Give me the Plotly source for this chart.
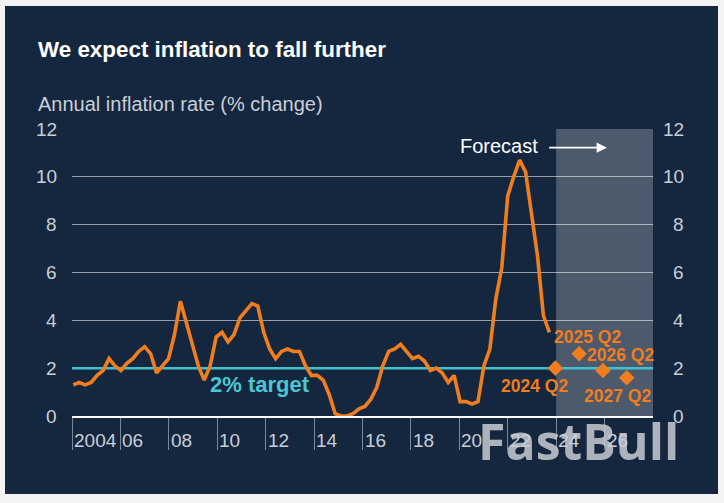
import plotly.graph_objects as go

# ---------------- data ----------------
START_YEAR = 2004
# UK CPI, annual % change, quarterly from 2004 Q1 to 2024 Q1
cpi = [
    1.3, 1.4, 1.3, 1.4,   # 2004
    1.7, 1.9, 2.4, 2.1,   # 2005
    1.9, 2.2, 2.4, 2.7,   # 2006
    2.9, 2.6, 1.8, 2.1,   # 2007
    2.4, 3.4, 4.8, 3.9,   # 2008
    3.0, 2.1, 1.5, 2.1,   # 2009
    3.3, 3.5, 3.1, 3.4,   # 2010
    4.1, 4.4, 4.7, 4.6,   # 2011
    3.5, 2.8, 2.4, 2.7,   # 2012
    2.8, 2.7, 2.7, 2.1,   # 2013
    1.7, 1.7, 1.5, 0.9,   # 2014
    0.1, 0.0, 0.0, 0.1,   # 2015
    0.3, 0.4, 0.7, 1.2,   # 2016
    2.1, 2.7, 2.8, 3.0,   # 2017
    2.7, 2.4, 2.5, 2.3,   # 2018
    1.9, 2.0, 1.8, 1.4,   # 2019
    1.7, 0.6, 0.6, 0.5,   # 2020
    0.6, 2.1, 2.8, 4.9,   # 2021
    6.2, 9.2, 10.0, 10.7, # 2022
    10.2, 8.4, 6.7, 4.2,  # 2023
    3.5,                  # 2024 Q1
]
forecast_labels = ["2024 Q2", "2025 Q2", "2026 Q2", "2027 Q2"]
forecast_values = [2.0, 2.6, 1.9, 1.6]
x_tick_years = [2004, 2006, 2008, 2010, 2012, 2014, 2016, 2018, 2020, 2022, 2024, 2026]
x_tick_labels = ["2004", "06", "08", "10", "12", "14", "16", "18", "20", "22", "24", "26"]
y_ticks = [0, 2, 4, 6, 8, 10, 12]
target_value = 2.0
x_range = [2004, 2028]
forecast_start = 2024

title_text = "We expect inflation to fall further"
subtitle_text = "Annual inflation rate (% change)"
forecast_text = "Forecast"
target_text = "2% target"
watermark_text = "FastBull"

# ---------------- style ----------------
W, H = 724, 503
L, R, T, B = 72, 71, 129, 87
PW, PH = W - L - R, H - T - B
NAVY = "#14273f"
OUTER = "#f4f4f4"
ORANGE = "#f07d1e"
CYAN = "#3fc2cd"
LABEL = "#c9ced6"
FONT = "Liberation Sans, Arial, sans-serif"
# label offsets (pixels) for forecast labels: (xanchor, xshift, yshift)
label_offsets = [("right", 15, -18), ("center", 8, 17), ("center", 18, 16), ("center", -9, -18)]

def px_x(p):
    return (p - L) / PW

def px_y(p):
    return (H - B - p) / PH

def qidx(label):
    y, q = label.split(" Q")
    return (int(y) - START_YEAR) * 4 + int(q) - 1

# hidden quarter-index axis used by the series (calibrated to the picture)
Q_PX = 5.951
q0 = -(73.3 - L) / Q_PX
q_range = [q0, q0 + PW / Q_PX]

fig = go.Figure()

fig.add_trace(go.Scatter(
    x=x_range, y=[target_value, target_value], mode="lines",
    line=dict(color=CYAN, width=2.5), hoverinfo="skip", showlegend=False,
))
fig.add_trace(go.Scatter(
    x=list(range(len(cpi))), y=cpi, xaxis="x2", mode="lines",
    line=dict(color=ORANGE, width=3.6), showlegend=False,
))
fig.add_trace(go.Scatter(
    x=[qidx(l) for l in forecast_labels], y=forecast_values, xaxis="x2",
    mode="markers", marker=dict(symbol="diamond", size=12, color=ORANGE),
    showlegend=False,
))

shapes = [
    dict(type="rect", xref="paper", yref="paper", x0=px_x(5), x1=px_x(718),
         y0=px_y(494), y1=px_y(6), fillcolor=NAVY, line=dict(width=0), layer="below"),
    dict(type="rect", xref="x", yref="y", x0=forecast_start, x1=x_range[1],
         y0=y_ticks[0], y1=y_ticks[-1], fillcolor="rgba(255,255,255,0.24)",
         line=dict(width=0), layer="below"),
]

ann = []
ann.append(dict(text=watermark_text, xref="paper", yref="paper", x=px_x(476), y=px_y(441),
                xanchor="left", yanchor="middle", showarrow=False,
                font=dict(family="Open Sans, sans-serif", size=50, color="rgba(200,204,210,0.85)",
                          weight="bold")))
ann.append(dict(text=title_text, xref="paper", yref="paper", x=px_x(36), y=px_y(49),
                xanchor="left", yanchor="middle", showarrow=False,
                font=dict(family=FONT, size=22.4, color="white", weight="bold")))
ann.append(dict(text=subtitle_text, xref="paper", yref="paper", x=px_x(36), y=px_y(104),
                xanchor="left", yanchor="middle", showarrow=False,
                font=dict(family=FONT, size=20, color=LABEL)))
for yv in y_ticks:
    for xp in (58.5, 686):
        ann.append(dict(text=str(yv), xref="paper", yref="y", x=px_x(xp), y=yv,
                        xanchor="right", yanchor="middle", showarrow=False,
                        font=dict(family=FONT, size=19, color=LABEL)))
for xv, lab in zip(x_tick_years, x_tick_labels):
    ann.append(dict(text=lab, xref="x", yref="paper", x=xv, y=px_y(440.5), xshift=0,
                    xanchor="left", yanchor="middle", showarrow=False,
                    font=dict(family=FONT, size=19, color=LABEL)))
ann.append(dict(text=target_text, xref="x", yref="y", x=2009.6, y=1.3,
                xanchor="left", yanchor="middle", showarrow=False,
                font=dict(family=FONT, size=22, color="#4cc6d1", weight="bold")))
ann.append(dict(text=forecast_text, xref="x", yref="y", x=2023.33, y=11.27,
                xanchor="right", yanchor="middle", showarrow=False,
                font=dict(family=FONT, size=20, color="white")))
ann.append(dict(text="", xref="x", yref="y", x=2026.1, y=11.22,
                axref="x", ayref="y", ax=2023.65, ay=11.22, showarrow=True,
                arrowhead=2, arrowsize=1.3, arrowwidth=1.6, arrowcolor="white"))
for lab, val, (xa, xs, ys) in zip(forecast_labels, forecast_values, label_offsets):
    ann.append(dict(text=lab, xref="x2", yref="y", x=qidx(lab), y=val,
                    xanchor=xa, yanchor="middle", xshift=xs, yshift=ys, showarrow=False,
                    font=dict(family=FONT, size=17.5, color=ORANGE, weight="bold")))

fig.update_layout(
    width=W, height=H, margin=dict(l=L, r=R, t=T, b=B, pad=0),
    paper_bgcolor=OUTER, plot_bgcolor=NAVY, showlegend=False,
    xaxis=dict(range=x_range, tickvals=x_tick_years, ticks="outside", ticklen=32,
               tickwidth=1, tickcolor="rgba(255,255,255,0.45)", showticklabels=False,
               showgrid=False, zeroline=False, showline=True, linecolor="white",
               linewidth=2, fixedrange=True),
    xaxis2=dict(range=q_range, overlaying="x", visible=False, fixedrange=True),
    yaxis=dict(range=[y_ticks[0], y_ticks[-1]], tickvals=y_ticks, showticklabels=False,
               showgrid=True, gridcolor="rgba(255,255,255,0.55)", gridwidth=1,
               zeroline=False, ticks="", fixedrange=True),
    shapes=shapes, annotations=ann,
)

fig.write_html("out.html")
